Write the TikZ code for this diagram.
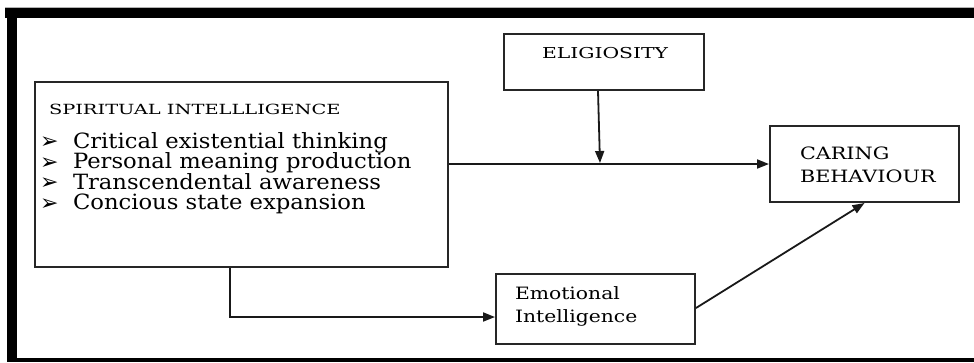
\documentclass[tikz,border=0pt]{standalone}
\usepackage{fontspec}
\setmainfont{DejaVu Serif}
\newfontfamily\symfont{DejaVu Sans}
\usetikzlibrary{arrows.meta}
\newcommand{\sx}[3]{\scalebox{#1}[1]{\fontsize{#2}{#2}\selectfont #3}}
\begin{document}
\begin{tikzpicture}[x=1pt,y=-1pt,
  box/.style={draw=black!85, line width=2pt, anchor=north west, inner sep=0pt},
  conn/.style={line width=1.8pt, draw=black!90, -{Triangle[length=12pt,width=9pt]}},
  lbl/.style={anchor=base west, inner sep=0pt, outer sep=0pt},
  bul/.style={anchor=base west, inner sep=0pt, outer sep=0pt, font=\symfont\fontsize{22}{22}\selectfont}]
\useasboundingbox (0,0) rectangle (974,362);
% frame
\fill[black] (5,8) rectangle (974,18);
\fill[black] (7,8) rectangle (17,362);
\fill[black] (7,358) rectangle (974,362);
\draw[black!30] (5,7.5) -- (974,7.5);
% boxes
\node[box, minimum width=413pt, minimum height=185pt] (si) at (34,81) {};
\node[box, minimum width=200pt, minimum height=56pt] (rel) at (503,33) {};
\node[box, minimum width=189pt, minimum height=76pt] (cb) at (769,125) {};
\node[box, minimum width=199pt, minimum height=70pt] (ei) at (495,273) {};
% texts
\node[lbl] (t1) at (49,114) {\sx{1.385}{14}{SPIRITUAL INTELLLIGENCE}};
\node[bul] (b1) at (40,148) {➢};
\node[bul] (b2) at (40,169) {➢};
\node[bul] (b3) at (40,189) {➢};
\node[bul] (b4) at (40,210) {➢};
\node[lbl] (l1) at (73,148) {\sx{1.08}{21}{Critical existential thinking}};
\node[lbl] (l2) at (73,168) {\sx{1.08}{21}{Personal meaning production}};
\node[lbl] (l3) at (73,189) {\sx{1.08}{21}{Transcendental awareness}};
\node[lbl] (l4) at (73,209) {\sx{1.08}{21}{Concious state expansion}};
\node[lbl] (t2) at (542,58) {\sx{1.354}{15}{ELIGIOSITY}};
\node[lbl] (t3) at (800,159) {\sx{1.22}{17}{CARING}};
\node[lbl] (t4) at (800,182) {\sx{1.22}{17}{BEHAVIOUR}};
\node[lbl] (t5) at (515,299) {\sx{1.195}{17}{Emotional}};
\node[lbl] (t6) at (515,322) {\sx{1.195}{17}{Intelligence}};
% connectors
\coordinate (m) at (600,163);
\draw[conn] (si.east |- cb.west) -- (cb.west);
\draw[conn] ([xshift=-6pt]rel.south) -- (m);
\draw[conn] ([xshift=-11.5pt]si.south) |- ([yshift=-8pt]ei.west);
\draw[conn] ([yshift=1pt]ei.east) -- (cb.south);
\end{tikzpicture}
\end{document}
